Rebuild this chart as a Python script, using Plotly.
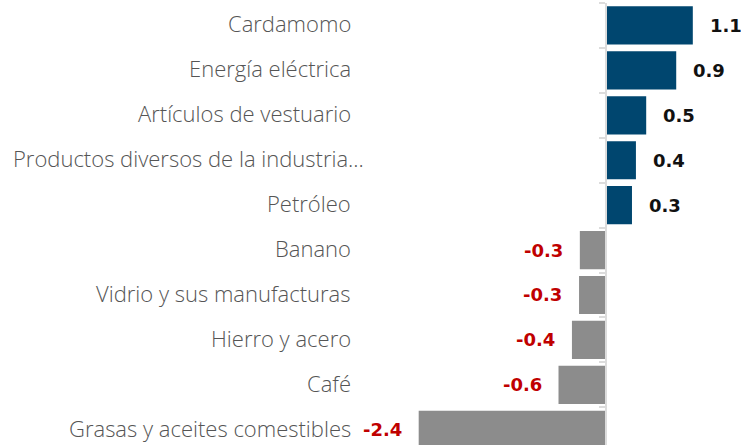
import plotly.graph_objects as go

# Data (percentage-point contributions)
categories = [
    "Cardamomo",
    "Energía eléctrica",
    "Artículos de vestuario",
    "Productos diversos de la industria...",
    "Petróleo",
    "Banano",
    "Vidrio y sus manufacturas",
    "Hierro y acero",
    "Café",
    "Grasas y aceites comestibles",
]
values = [1.10, 0.89, 0.51, 0.38, 0.33, -0.33, -0.34, -0.43, -0.60, -2.37]

POS_COLOR = "#00466f"
NEG_COLOR = "#8c8c8c"
AXIS_GRAY = "#dcdcdc"

bar_colors = [POS_COLOR if v >= 0 else NEG_COLOR for v in values]

# x scale: zero sits at ~606px of a 741px-wide plot area
x_min, x_max = -7.67, 1.71
zero_pos = (0 - x_min) / (x_max - x_min)

fig = go.Figure()
fig.add_trace(go.Bar(
    x=values,
    y=categories,
    orientation='h',
    marker=dict(color=bar_colors, line=dict(width=0)),
    hoverinfo='x+y',
))

# category labels, right-aligned well left of the zero axis
for cat in categories:
    fig.add_annotation(
        x=353 / 741, xref='paper', y=cat, yref='y',
        text=cat, showarrow=False, xanchor='right', yanchor='middle',
        xshift=13 if cat.endswith('...') else 0, yshift=2,
        font=dict(family="Open Sans", size=22, weight=300, color="#555555"),
    )

# value labels
for cat, v in zip(categories, values):
    fig.add_annotation(
        x=v, y=cat, text=f"{v:.1f}", showarrow=False,
        xanchor='left' if v >= 0 else 'right', yanchor='middle',
        xshift=15 if v >= 0 else -15,
        font=dict(family="DejaVu Sans", size=18, weight='bold',
                  color="#111111" if v >= 0 else "#c00000"),
    )

fig.update_layout(
    width=741,
    height=445,
    margin=dict(l=0, r=0, t=3, b=0),
    plot_bgcolor='white',
    paper_bgcolor='white',
    bargap=0.15,
    showlegend=False,
    xaxis=dict(range=[x_min, x_max], visible=False, fixedrange=True),
    yaxis=dict(
        type='category',
        categoryorder='array',
        categoryarray=categories,
        range=[9.34, -0.5],
        anchor='free',
        position=zero_pos,
        showline=True,
        linecolor=AXIS_GRAY,
        linewidth=2,
        ticks='outside',
        tickson='boundaries',
        ticklen=6,
        tickcolor=AXIS_GRAY,
        tickwidth=2,
        showticklabels=False,
        showgrid=False,
        zeroline=False,
        fixedrange=True,
    ),
)

fig.write_html("out.html", config={"displayModeBar": False},
               post_script="document.body.style.margin='0';")
